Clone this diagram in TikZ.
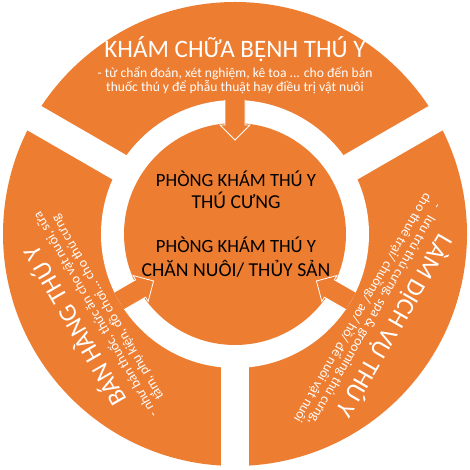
\documentclass[tikz,border=0pt]{standalone}
\usepackage{fontspec}
\setmainfont{Carlito}
\definecolor{segorange}{HTML}{ED7D31}
\begin{document}
\begin{tikzpicture}[x=0.75pt,y=0.75pt]
	\tikzset{segfill/.style = {fill=segorange}}
	\tikzset{gapband/.style = {draw=white,line width=21pt}}
	\tikzset{blockarrow/.style = {draw=white,fill=segorange,line width=0.6pt}}
	\tikzset{segtitle/.style = {text=white,anchor=base,font=\fontsize{18.8}{22}\selectfont}}
	\tikzset{segdetail/.style = {text=white,align=center,font=\fontsize{10.2}{10.5}\selectfont}}
	\tikzset{hubsmall/.style = {text=black,anchor=base,font=\fontsize{14}{16}\selectfont}}
	\tikzset{hubbig/.style = {text=black,anchor=base,font=\fontsize{14.8}{17}\selectfont}}
	\useasboundingbox (-235,-236) rectangle (235,234);
	% ring with three gaps
	\fill[segfill] (0,0) circle (232);
	\foreach \a in {30,150,270}
		\draw[gapband] (0,0) -- (\a:240);
	\fill[white] (0,0) circle (134);
	\fill[segfill] (0,0) circle (111);
	% block arrows into the hub
	\foreach \a in {90,210,330}
		\draw[blockarrow,rotate=\a-90] (-10,134) -- (-10,109) -- (-15,109) -- (0,94) -- (15,109) -- (10,109) -- (10,134);
	% segment texts
	\node[segtitle] (kham) at (0,176) {KHÁM CHỮA BỆNH THÚ Y};
	\node[segdetail] (khamtext) at (0,154) {- từ chẩn đoán, xét nghiệm, kê toa ... cho đến bán\\thuốc thú y để phẫu thuật hay điều trị vật nuôi};
	\begin{scope}[rotate=120,transform shape]
		\node[segtitle] (ban) at (0,176) {BÁN HÀNG THÚ Y};
		\node[segdetail] (bantext) at (0,154) {- như bán thuốc, thức ăn cho vật nuôi, sữa\\tắm, phụ kiện, đồ chơi... cho thú cưng};
	\end{scope}
	\begin{scope}[rotate=240,transform shape]
		\node[segtitle] (lam) at (0,176) {LÀM DỊCH VỤ THÚ Y};
		\node[segdetail] (lamtext) at (0,154) {-~~~lưu trú thú cưng, spa \& grooming thú cưng,\\cho thuê trại/ chuồng/ ao/ hồ/ để nuôi vật nuôi};
	\end{scope}
	% hub texts
	\node[hubsmall] (pk1) at (1,47) {PHÒNG KHÁM THÚ Y};
	\node[hubbig] (thucung) at (1,25) {THÚ CƯNG};
	\node[hubsmall] (pk2) at (1,-19) {PHÒNG KHÁM THÚ Y};
	\node[hubbig] (channuoi) at (1,-43) {CHĂN NUÔI/ THỦY SẢN};
\end{tikzpicture}
\end{document}
